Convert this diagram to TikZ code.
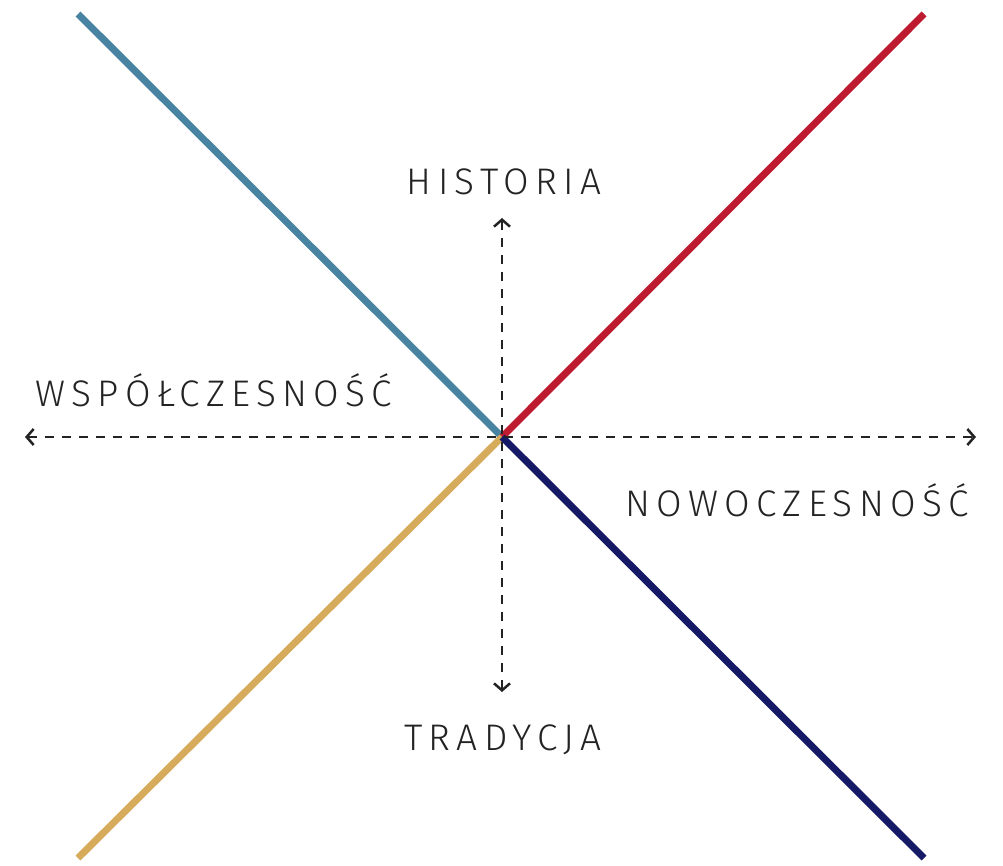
\documentclass[tikz,border=0pt]{standalone}
\usepackage{fontspec}
\setmainfont{Fira Sans}[UprightFont=* Light,LetterSpace=17]
\usepackage{tikz}
\usetikzlibrary{arrows.meta}
\definecolor{AxisBlue}{RGB}{72,132,162}
\definecolor{AxisRed}{RGB}{190,27,48}
\definecolor{AxisGold}{RGB}{214,171,92}
\definecolor{AxisNavy}{RGB}{22,26,102}
\definecolor{InkGrey}{RGB}{35,35,35}

\tikzset{
  arm/.style={line width=7pt},
  axisline/.style={InkGrey,line width=2.5pt,dash pattern=on 9pt off 8pt,
    {Straight Barb[length=7pt,width=16pt,line width=2.5pt]}-{Straight Barb[length=7pt,width=16pt,line width=2.5pt]}},
  label/.style={InkGrey,font=\fontsize{37}{40}\selectfont,inner sep=0pt}
}

\begin{document}
\begin{tikzpicture}[x=1pt,y=-1pt]
\useasboundingbox (0,0) rectangle (1003,865);
\coordinate (o) at (502,437);
\coordinate (nw) at (78,14);
\coordinate (ne) at (924,14);
\coordinate (sw) at (78,858);
\coordinate (se) at (924,858);
\coordinate (west) at (25,437);
\coordinate (east) at (976,437);
\coordinate (north) at (502,218);
\coordinate (south) at (502,692);
% colour arms
\draw[arm,AxisBlue] (nw) -- (o);
\draw[arm,AxisRed] (o) -- (ne);
\draw[arm,AxisGold] (o) -- (sw);
\draw[arm,AxisNavy] (o) -- (se);
% dashed axes
\draw[axisline] (west) -- (east);
\draw[axisline] (south) -- (north);
% labels
\node[label] (hist) at (504,182) {HISTORIA};
\node[label] (trad) at (503,740) {TRADYCJA};
\node[label] (wsp) at (214,390) {WSPÓŁCZESNOŚĆ};
\node[label] (now) at (797,500) {NOWOCZESNOŚĆ};
\end{tikzpicture}
\end{document}
